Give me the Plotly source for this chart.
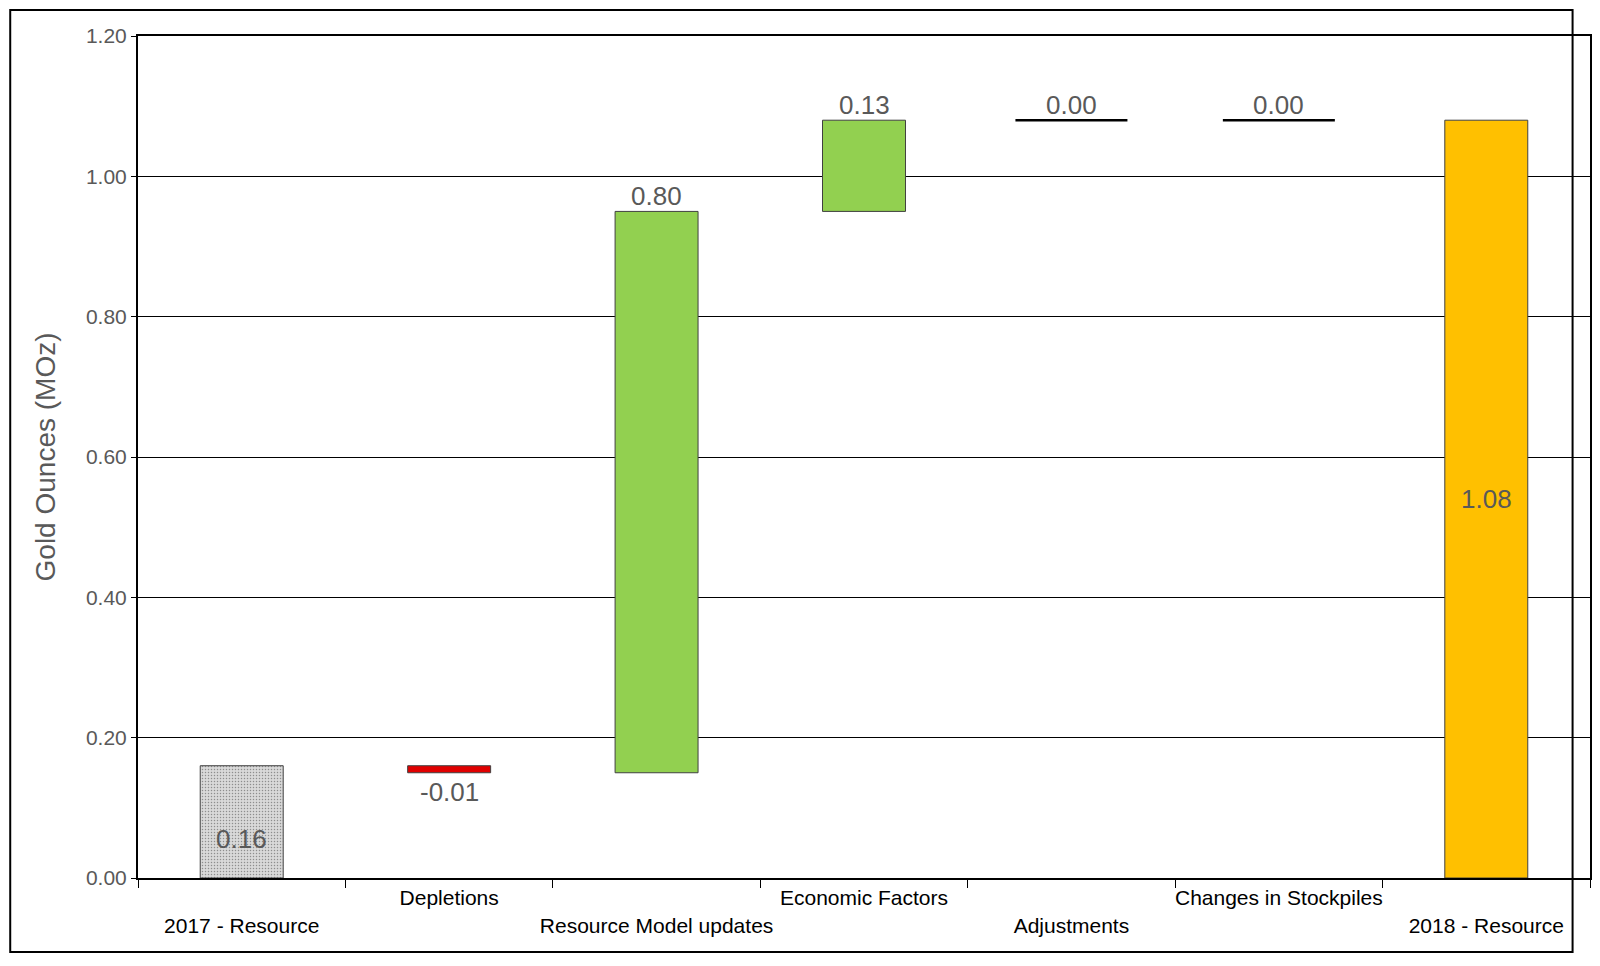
import plotly.graph_objects as go

categories = ["2017 - Resource", "Depletions", "Resource Model updates", "Economic Factors",
              "Adjustments", "Changes in Stockpiles", "2018 - Resource"]
deltas = [0.16, -0.01, 0.80, 0.13, 0.00, 0.00, 1.08]
kinds = ["total", "delta", "delta", "delta", "delta", "delta", "total"]

bases, heights = [], []
run = 0.0
for d, k in zip(deltas, kinds):
    if k == "total":
        bases.append(0.0); heights.append(d); run = d
    else:
        lo = min(run, run + d)
        bases.append(lo); heights.append(abs(d)); run += d

colors = []
for d, k in zip(deltas, kinds):
    if k == "total":
        colors.append("#d9d9d9" if len(colors) == 0 else "#ffc000")
    elif d < 0:
        colors.append("#e00000")
    else:
        colors.append("#92d050")

x = list(range(len(categories)))
fig = go.Figure()
bx = [i for i in x if heights[i] > 0]
fig.add_trace(go.Bar(
    x=bx, y=[heights[i] for i in bx], base=[bases[i] for i in bx], width=0.4,
    marker=dict(color=[colors[i] for i in bx], line=dict(color="#404040", width=1),
                pattern=dict(shape=["." if i == 0 else "" for i in bx], fgcolor="#d0d0d0",
                             bgcolor="#e4e4e4", size=3, solidity=0.2)),
    showlegend=False, hoverinfo="skip"))
zx = [i for i in x if heights[i] == 0]
fig.add_trace(go.Scatter(
    x=zx, y=[bases[i] for i in zx], mode="markers",
    marker=dict(symbol="line-ew", size=80, line=dict(color="black", width=2.5)),
    showlegend=False, hoverinfo="skip"))

font_lab = dict(family="Liberation Sans, Arial", size=26, color="#595959")
for i in x:
    top = bases[i] + heights[i]
    txt = f"{deltas[i]:.2f}"
    if kinds[i] == "total":
        fig.add_annotation(x=i, y=top / 2 if i else top * 0.35, text=txt, showarrow=False, font=font_lab)
    elif deltas[i] < 0:
        fig.add_annotation(x=i, y=bases[i], text=txt, showarrow=False, yanchor="top", yshift=-2, font=font_lab)
    else:
        fig.add_annotation(x=i, y=top, text=txt, showarrow=False, yanchor="bottom", yshift=-2, font=font_lab)

ticktext = [("<br>" + c) if i % 2 == 0 else (c + "<br> ") for i, c in enumerate(categories)]
fig.update_xaxes(range=[-0.5, 6.5], tickvals=x, ticktext=ticktext, ticks="",
                 tickfont=dict(family="Liberation Sans, Arial", size=21, color="black"),
                 showline=True, linecolor="black", linewidth=2, mirror=True, showgrid=False,
                 minor=dict(tickvals=[i - 0.5 for i in range(8)], ticks="outside", ticklen=8,
                            tickcolor="black", showgrid=False))
fig.update_yaxes(range=[0, 1.2], dtick=0.2, tickformat=".2f", showgrid=True, gridcolor="black",
                 gridwidth=1.2, showline=True, linecolor="black", linewidth=2, mirror=True,
                 ticks="outside", ticklen=5, tickcolor="black", zeroline=False,
                 tickfont=dict(family="Liberation Sans, Arial", size=21, color="#595959"),
                 title=dict(text="Gold Ounces (MOz)", standoff=22,
                            font=dict(family="Liberation Sans, Arial", size=28, color="#595959")))
fig.add_shape(type="rect", xref="paper", yref="paper", x0=-0.088, x1=0.988, y0=-0.088, y1=1.031,
              line=dict(color="black", width=2))
fig.update_layout(width=1600, height=966, margin=dict(l=130, r=18, t=28, b=96),
                  plot_bgcolor="white", paper_bgcolor="white")
fig.write_html("out.html")
